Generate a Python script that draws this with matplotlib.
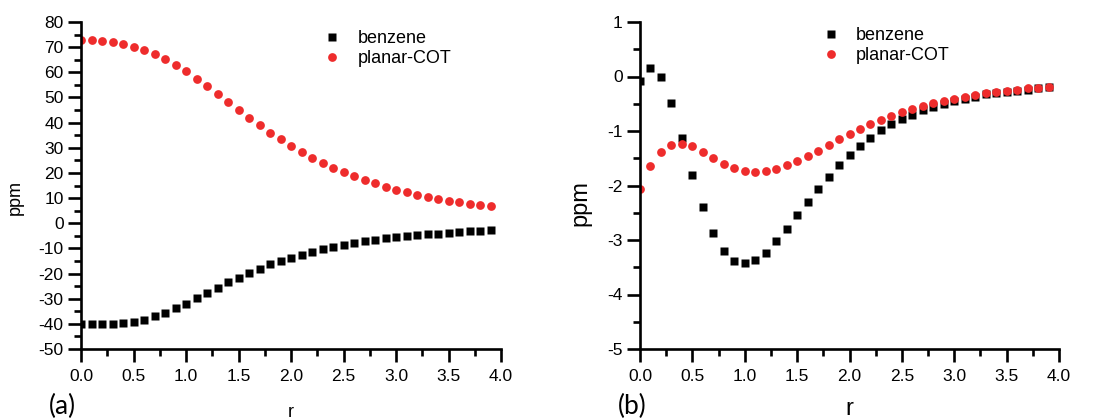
import matplotlib.pyplot as plt
from matplotlib.ticker import MultipleLocator

plt.rcParams["font.family"] = ["Liberation Sans", "DejaVu Sans"]
plt.rcParams["axes.unicode_minus"] = False

# r grid shared by both panels
r = [round(0.1 * i, 1) for i in range(40)]

# panel (a)
benzene_a = [-39.9, -39.9, -39.9, -39.9, -39.7, -39.3, -38.3, -37.0, -35.5, -33.8,
             -32.0, -29.7, -27.7, -25.6, -23.5, -21.6, -19.8, -18.0, -16.4, -15.0,
             -13.7, -12.5, -11.4, -10.2, -9.4, -8.6, -7.8, -7.2, -6.5, -6.0,
             -5.6, -5.2, -4.8, -4.4, -4.1, -3.7, -3.4, -3.2, -2.9, -2.8]
cot_a = [73.0, 72.8, 72.4, 71.9, 71.2, 70.2, 68.9, 67.4, 65.3, 63.0,
         60.4, 57.4, 54.4, 51.2, 48.2, 45.0, 41.8, 38.9, 36.0, 33.3,
         30.7, 28.3, 26.0, 23.9, 22.0, 20.2, 18.6, 17.1, 15.8, 14.6,
         13.4, 12.3, 11.4, 10.5, 9.7, 9.0, 8.4, 7.8, 7.3, 6.8]

# panel (b)
benzene_b = [-0.08, 0.16, -0.01, -0.49, -1.12, -1.80, -2.40, -2.88, -3.21, -3.38,
             -3.43, -3.37, -3.23, -3.02, -2.80, -2.55, -2.31, -2.06, -1.84, -1.63,
             -1.44, -1.27, -1.12, -0.99, -0.88, -0.78, -0.70, -0.62, -0.56, -0.50,
             -0.45, -0.41, -0.37, -0.33, -0.30, -0.28, -0.26, -0.24, -0.22, -0.20]
cot_b = [-2.06, -1.65, -1.38, -1.25, -1.23, -1.28, -1.39, -1.50, -1.60, -1.68,
         -1.74, -1.76, -1.74, -1.70, -1.63, -1.55, -1.45, -1.36, -1.25, -1.14,
         -1.06, -0.96, -0.88, -0.79, -0.72, -0.65, -0.59, -0.54, -0.49, -0.45,
         -0.41, -0.37, -0.34, -0.31, -0.28, -0.26, -0.24, -0.22, -0.21, -0.19]

RED = "#ee2c2c"

fig = plt.figure(figsize=(11.01, 4.2), dpi=100)
ax_a = fig.add_axes([81 / 1101, 1 - 349 / 420, 420 / 1101, 327 / 420])
ax_b = fig.add_axes([640 / 1101, 1 - 349 / 420, 419 / 1101, 327 / 420])


def style_axes(ax, ylim, ymajor, yminor, label_size, label_xy):
    ax.set_xlim(0, 4.0)
    ax.set_ylim(*ylim)
    ax.xaxis.set_major_locator(MultipleLocator(0.5))
    ax.xaxis.set_minor_locator(MultipleLocator(0.25))
    ax.yaxis.set_major_locator(MultipleLocator(ymajor))
    ax.yaxis.set_minor_locator(MultipleLocator(yminor))
    ax.xaxis.set_major_formatter(plt.FormatStrFormatter("%.1f"))
    ax.yaxis.set_major_formatter(plt.FormatStrFormatter("%d"))
    for s in ("top", "right"):
        ax.spines[s].set_visible(False)
    for s in ("left", "bottom"):
        ax.spines[s].set_linewidth(1.9)
        ax.spines[s].set_zorder(5)
    ax.tick_params(which="major", direction="out", length=9.5, width=1.9, labelsize=12.5)
    ax.tick_params(which="minor", direction="out", length=5, width=1.9)
    ax.tick_params(axis="x", which="major", pad=5)
    ax.tick_params(axis="y", which="major", pad=3)
    ax.set_ylabel("ppm", fontsize=label_size)
    ax.set_xlabel("r", fontsize=label_size)
    ax.yaxis.set_label_coords(*label_xy)


for ax, ben, cot in ((ax_a, benzene_a, cot_a), (ax_b, benzene_b, cot_b)):
    ax.plot(r, ben, "s", color="black", ms=5.2, mec="none", label="benzene", zorder=3)
    ax.plot(r, cot, "o", color=RED, ms=6.3, mec="none", label="planar-COT", zorder=3)

style_axes(ax_a, (-50, 80), 10, 5, 13, (-0.136, 0.462))
style_axes(ax_b, (-5, 1), 1, 0.5, 17, (-0.115, 0.446))
ax_a.xaxis.labelpad = 14
ax_b.xaxis.labelpad = 10

ax_a.legend(loc="upper left", bbox_to_anchor=(0.577, 0.975), frameon=False,
            fontsize=13, handlelength=1.0, handletextpad=0.9, labelspacing=0.15,
            borderpad=0, borderaxespad=0)
ax_b.legend(loc="upper left", bbox_to_anchor=(0.434, 0.984), frameon=False,
            fontsize=13, handlelength=1.0, handletextpad=0.9, labelspacing=0.15,
            borderpad=0, borderaxespad=0)

fig.text(49 / 1101, 1 - 406 / 420, "(a)", fontsize=19, family=["Lato", "DejaVu Sans"], va="center")
fig.text(618 / 1101, 1 - 406 / 420, "(b)", fontsize=19, family=["Lato", "DejaVu Sans"], va="center")

fig.savefig("out.png", dpi=100)
